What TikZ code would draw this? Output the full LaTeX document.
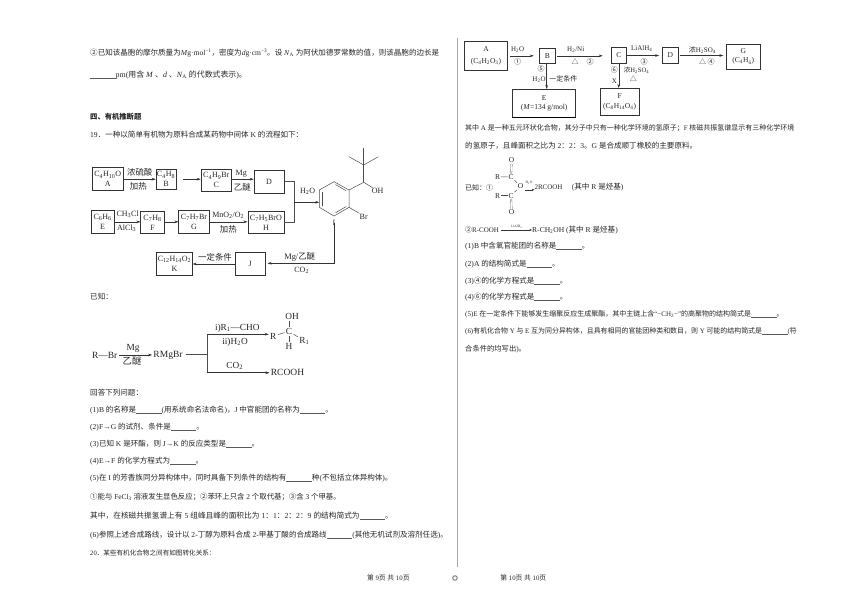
\documentclass[tikz,border=0pt]{standalone}
\usepackage{fontspec}
\setmainfont{Liberation Serif}
\newfontfamily\cjk{Noto Sans CJK SC}
\usetikzlibrary{arrows.meta}

% CJK characters switch to the CJK family on their own
\newXeTeXintercharclass\cjkclass
\newcount\cjkcnt
\newcommand{\cjkrange}[2]{\cjkcnt=#1 \loop\XeTeXcharclass\cjkcnt=\cjkclass \ifnum\cjkcnt<#2 \advance\cjkcnt by 1 \repeat}
\cjkrange{"4E00}{"9FFF}
\cjkrange{"3000}{"303F}
\cjkrange{"FF00}{"FFEF}
\cjkrange{"2460}{"2473}
\XeTeXcharclass"25B3=\cjkclass
\XeTeXinterchartokenstate=1
\XeTeXinterchartoks 0 \cjkclass={\begingroup\cjk}
\XeTeXinterchartoks 4095 \cjkclass={\begingroup\cjk}
\XeTeXinterchartoks \cjkclass 0={\endgroup}
\XeTeXinterchartoks \cjkclass 4095={\endgroup}

\newcommand{\dn}[1]{\textsubscript{#1}}
\newcommand{\blk}{{\color{black!65}\rule[-0.6pt]{25.5pt}{0.3pt}}}

\tikzset{
  fs/.style={font=\fontsize{#1}{9}\selectfont},
  txt/.style={anchor=base west,inner sep=0pt,text=black!85,fs=7.55},
  box/.style={draw=black!80,line width=.5pt,inner sep=0pt,align=center,text=black!85,font=\fontsize{8}{10}\selectfont},
  boxr/.style={box,font=\fontsize{7.5}{9.5}\selectfont},
  lab/.style={inner sep=0pt,text=black!85,fs=8},
  labz/.style={lab,fs=8.4},
  labr/.style={lab,fs=7},
  chem/.style={inner sep=1.2pt,text=black!85,fs=9.3},
  flow/.style={draw=black!80,line width=.5pt,-{Stealth[length=4pt,width=2.6pt]}},
  bond/.style={draw=black!70,line width=.5pt},
}

\begin{document}
\begin{tikzpicture}[x=1pt,y=-1pt]
\useasboundingbox (0,0) rectangle (860,608);
\fill[white] (0,0) rectangle (860,608);

% left column
\node[txt] (l1) at (90,55.2) {②已知该晶胞的摩尔质量为\textit{M}g·mol\textsuperscript{−1}，密度为\textit{d}g·cm\textsuperscript{−3}。设 \textit{N}\dn{A} 为阿伏加德罗常数的值，则该晶胞的边长是};
\node[txt,fs=7.9] (l2) at (90,77.5) {\blk{}pm(用含 \textit{M} 、\textit{d} 、\textit{N}\dn{A} 的代数式表示)。};
\node[txt,font=\fontsize{7.3}{9}\selectfont\bfseries] (l3) at (90,119.5) {四、有机推断题};
\node[txt] (l4) at (90,137.5) {19．一种以简单有机物为原料合成某药物中间体 K 的流程如下：};

\node[box,minimum width=31pt,minimum height=23pt] (A) at (107.8,179.2) {C\dn{4}H\dn{10}O\\A};
\node[box,minimum width=20pt,minimum height=20.3pt] (B) at (166,179.2) {C\dn{4}H\dn{8}\\B};
\node[box,minimum width=30.7pt,minimum height=22.7pt] (C) at (216.3,180.3) {C\dn{4}H\dn{9}Br\\C};
\node[box,minimum width=30.3pt,minimum height=22.7pt] (D) at (269.1,181.4) {D};
\node[box,minimum width=23.3pt,minimum height=23pt] (E) at (102.6,221.8) {C\dn{6}H\dn{6}\\E};
\node[box,minimum width=23.6pt,minimum height=21.6pt] (F) at (152.5,222.5) {C\dn{7}H\dn{8}\\F};
\node[box,minimum width=30.6pt,minimum height=22.6pt] (G) at (194,222) {C\dn{7}H\dn{7}Br\\G};
\node[box,minimum width=36.3pt,minimum height=21.6pt] (H) at (265.9,222.5) {C\dn{7}H\dn{5}BrO\\H};
\node[box,minimum width=35.6pt,minimum height=22.6pt] (K) at (174.5,264) {C\dn{12}H\dn{14}O\dn{2}\\K};
\node[box,minimum width=30pt,minimum height=22.6pt] (J) at (250.3,264) {J};

\draw[flow] (A.east) -- (A.east -| B.west);
\draw[flow,shorten <=7pt] (B.east) -- (B.east -| C.west);
\draw[flow] (C.east |- B.east) -- (B.east -| D.west);
\draw[flow] (E.east) -- (E.east -| F.west);
\draw[flow] (F.east |- E.east) -- (E.east -| G.west);
\draw[flow] (G.east |- E.east) -- (E.east -| H.west);
\draw[flow] (J.west) -- (K.east);

\node[labz] (t1) at (139.7,172.7) {浓硫酸};
\node[labz] (t2) at (138.3,186.3) {加热};
\node[lab] (t3) at (241.3,173.3) {Mg};
\node[labz] (t4) at (242.3,187.7) {乙醚};
\node[lab] (t5) at (127.7,214) {CH\dn{3}Cl};
\node[lab] (t6) at (126.7,228.3) {AlCl\dn{3}};
\node[lab] (t7) at (228.3,215.7) {MnO\dn{2}/O\dn{2}};
\node[labz] (t8) at (228.3,229.3) {加热};
\node[labz] (t9) at (215,257.3) {一定条件};

% ring and the lines round it
\foreach \n/\x/\y in {1/334/181.7,2/349/190,3/349/207.3,4/334/216,5/319.3/207.3,6/319.3/190,
  ch/363.7/182.3,oh/372.7/187.7,cq/363.7/165,m1/363.7/148.3,m2/349/156.7,m3/378.3/156.7,br/359.3/213.3}
  \coordinate (p\n) at (\x,\y);
\draw[bond] (p1)--(p2)--(p3)--(p4)--(p5)--(p6)--cycle;
\draw[bond] (335.5,184.6)--(346.2,190.8);
\draw[bond] (346.2,206.5)--(335.5,212.8);
\draw[bond] (322,192)--(322,205.5);
\draw[bond] (p2)--(pch)--(poh);
\draw[bond] (pch)--(pcq)--(pm1);
\draw[bond] (pm2)--(pcq)--(pm3);
\draw[bond] (p3)--(pbr);
\node[lab] (oh) at (377.7,191) {OH};
\node[lab] (br) at (363.7,216.7) {Br};
\node[lab] (io) at (334,223.3) {I};

\coordinate (dh) at (294.3,202.3);
\coordinate (ij) at (334,263.3);
\draw[bond] (D.east) -| (dh);
\draw[bond] (H.east) -| (dh);
\draw[flow] (dh) -- (p6 |- dh);
\draw[flow] ([yshift=3pt]io.south) -- (ij) -- ([xshift=2pt]J.east |- ij);
\node[lab] (t10) at (307.7,191) {H\dn{2}O};
\node[labz] (t11) at (299.7,256.7) {Mg/乙醚};
\node[lab] (t12) at (301.7,270.7) {CO\dn{2}};

\node[txt] (l5) at (90,299.8) {已知：};

\node[chem,fs=9.5] (rbr) at (104.7,355) {R---Br};
\node[chem,fs=9.5] (rmg) at (168,355) {RMgBr};
\coordinate (bj) at (207.3,354);
\coordinate (bjt) at (207.3,334.3);
\coordinate (bjb) at (207.3,372.7);
\node[chem,fs=9.5,anchor=west] (rcooh) at (269.5,372.7) {RCOOH};
\node[chem] (sr) at (273.3,336) {R};
\node[chem] (sc) at (289,331.3) {C};
\node[chem] (so) at (292,316) {OH};
\node[chem] (sh) at (289,346.7) {H};
\node[chem] (sq) at (304.3,341) {R\dn{1}};
\draw[bond] (sr)--(sc);
\draw[bond] (sc)--(sc |- so.south);
\draw[bond] (sc)--(sh);
\draw[bond] (sc)--(sq);
\draw[flow] (rbr.east) -- (rbr.east -| rmg.west);
\draw[bond] ([xshift=2pt]rmg.east |- bj) -- (bj);
\draw[bond] (bjt)--(bjb);
\draw[flow] (bjt) -- (bjt -| sr.west);
\draw[flow] (bjb) -- (bjb -| rcooh.west);
\node[chem] (s1) at (133,348.5) {Mg};
\node[chem] (s2) at (132,361) {乙醚};
\node[chem] (s3) at (237.3,328.3) {i)R\dn{1}---CHO};
\node[chem] (s4) at (235,342.3) {ii)H\dn{2}O};
\node[chem] (s5) at (234.7,366) {CO\dn{2}};

\node[txt] (l6) at (90,395.8) {回答下列问题：};
\node[txt] (l7) at (90,412.5) {(1)B 的名称是\blk{}(用系统命名法命名)，J 中官能团的名称为\blk{}。};
\node[txt] (l8) at (90,429.8) {(2)F→G 的试剂、条件是\blk{}。};
\node[txt] (l9) at (90,446.8) {(3)已知 K 是环酯，则 J→K 的反应类型是\blk{}。};
\node[txt] (l10) at (90,463.5) {(4)E→F 的化学方程式为\blk{}。};
\node[txt] (l11) at (90,480.2) {(5)在 I 的芳香族同分异构体中，同时具备下列条件的结构有\blk{}种(不包括立体异构体)。};
\node[txt,fs=7.4] (l12) at (90,499.8) {①能与 FeCl\dn{3} 溶液发生显色反应；②苯环上只含 2 个取代基；③含 3 个甲基。};
\node[txt,fs=7.7] (l13) at (90,518.5) {其中，在核磁共振氢谱上有 5 组峰且峰的面积比为 1：1：2：2：9 的结构简式为\blk{}。};
\node[txt] (l14) at (90,537.5) {(6)参照上述合成路线，设计以 2-丁醇为原料合成 2-甲基丁酸的合成路线\blk{}(其他无机试剂及溶剂任选)。};
\node[txt,fs=6.6] (l15) at (90,555.2) {20．某些有机化合物之间有如图转化关系：};

% middle line and footer
\draw[gray!70,line width=.7pt] (457,38) coordinate (mt) -- (457,567) coordinate (mb);
\node[txt,anchor=base,fs=6.8] (pg9) at (388.3,580.2) {第 9页 共 10页};
\node[txt,anchor=base,fs=6.8] (pg10) at (523.3,580.2) {第 10页 共 10页};
\node[circle,draw=gray,line width=1pt,inner sep=0pt,minimum size=4.5pt] (hole) at (455,578) {};

% right column
\node[boxr,minimum width=43.4pt,minimum height=28.3pt] (rA) at (486,55.8) {A\\[3pt](C\dn{4}H\dn{2}O\dn{3})};
\node[boxr,minimum width=16.7pt,minimum height=15pt] (rB) at (547.3,55.8) {B};
\node[boxr,minimum width=15.7pt,minimum height=15.6pt] (rC) at (618.8,55.5) {C};
\node[boxr,minimum width=16pt,minimum height=15.6pt] (rD) at (670.3,55.5) {D};
\node[boxr,minimum width=33.3pt,minimum height=25pt] (rG) at (743.3,56.5) {G\\(C\dn{4}H\dn{6})};
\node[boxr,minimum width=63pt,minimum height=28pt] (rE) at (544.2,103.3) {E\\(\textit{M}=134 g/mol)};
\node[boxr,minimum width=39.3pt,minimum height=26.7pt] (rF) at (619.6,101.6) {F\\(C\dn{8}H\dn{14}O\dn{4})};
\draw[black,line width=1pt] (rE.south west) -- (rE.south east);
\coordinate (bE) at (546.7,0);

\draw[flow,shorten <=2pt,shorten >=5pt] (rA.east) -- (rA.east -| rB.west);
\draw[flow,shorten <=1pt,shorten >=8pt] (rB.east) -- (rB.east -| rC.west);
\draw[flow,shorten >=3pt] (rC.east) -- (rC.east -| rD.west);
\draw[flow,shorten <=1pt,shorten >=3pt] (rD.east) -- (rD.east -| rG.west);
\draw[flow] (rB.south -| bE) -- (rE.north -| bE);
\draw[flow] (rC.south) -- (rC.south |- rF.north);

\node[labr] (r1) at (517.7,50) {H\dn{2}O};
\node[labr] (r2) at (517.7,61.7) {①};
\node[labr] (r3) at (575.7,50) {H\dn{2}/Ni};
\node[labr] (r4) at (575,61.7) {△};
\node[labr] (r5) at (590,61.7) {②};
\node[labr] (r6) at (641.7,49) {LiAlH\dn{4}};
\node[labr] (r7) at (644,61.7) {③};
\node[labr] (r8) at (702.3,50) {浓H\dn{2}SO\dn{4}};
\node[labr] (r9) at (702.7,61.7) {△};
\node[labr] (r10) at (711,61.7) {④};
\node[labr] (r11) at (541,69.3) {⑤};
\node[labr] (r12) at (539,79.3) {H\dn{2}O};
\node[labr] (r13) at (563.3,79.3) {一定条件};
\node[labr] (r14) at (614.3,70) {⑥};
\node[labr,fs=6.6] (r15) at (636.5,70) {浓H\dn{2}SO\dn{4}};
\node[labr] (r16) at (633.3,78.3) {△};
\node[labr] (r17) at (614.3,81) {X};

\node[txt,fs=7] (n1) at (465,130.5) {其中 A 是一种五元环状化合物，其分子中只有一种化学环境的氢原子；F 核磁共振氢谱显示有三种化学环境};
\node[txt] (n2) at (465,148.8) {的氢原子，且峰面积之比为 2：2：3。G 是合成顺丁橡胶的主要原料。};
\node[txt,fs=7] (n3) at (465,190.5) {已知：①};

\node[chem,fs=7.5,inner sep=.8pt] (o1) at (511.7,160.3) {O};
\node[chem,fs=7.5,inner sep=.8pt] (c1) at (511,177) {C};
\node[chem,fs=7.5,inner sep=.8pt] (r1l) at (497.7,176.8) {R};
\node[chem,fs=7.5,inner sep=.8pt] (om) at (520.7,186.3) {O};
\node[chem,fs=7.5,inner sep=.8pt] (c2) at (511,195.7) {C};
\node[chem,fs=7.5,inner sep=.8pt] (r2l) at (497.7,195.7) {R};
\node[chem,fs=7.5,inner sep=.8pt] (o2) at (511.7,212.3) {O};
\draw[bond,double distance=1pt,line width=.3pt] (o1)--(c1);
\draw[bond,double distance=1pt,line width=.3pt] (o2)--(c2);
\draw[bond] (r1l)--(c1);
\draw[bond] (r2l)--(c2);
\draw[bond] (c1)--(om);
\draw[bond] (c2)--(om);
\node[lab,fs=3.6] (aw) at (529,183) {H\dn{2}O};
\coordinate (aw1) at (525,189.7);
\node[txt,fs=7] (rc) at (534.3,189.8) {2RCOOH};
\draw[flow,line width=.4pt,-{Stealth[length=2.5pt,width=2pt]}] (aw1) -- (aw1 -| rc.west);
\node[txt] (n4) at (571.7,189.8) {(其中 R 是烃基)};

\node[txt,fs=7] (n5) at (465,232.2) {②R-COOH};
\node[txt] (n6) at (532,232.2) {R-CH\dn{2}OH (其中 R 是烃基)};
\node[lab,fs=3.4] (la) at (516.7,227) {LiAlH\dn{4}};
\draw[flow,line width=.4pt,-{Stealth[length=2.5pt,width=2pt]},shorten <=1.5pt] ([yshift=2.2pt]n5.base east) -- ([yshift=2.2pt]n6.base west);

\node[txt] (q1) at (465,248.5) {(1)B 中含氧官能团的名称是\blk{}。};
\node[txt] (q2) at (465,266.8) {(2)A 的结构简式是\blk{}。};
\node[txt] (q3) at (465,283.5) {(3)④的化学方程式是\blk{}。};
\node[txt] (q4) at (465,299.8) {(4)⑥的化学方程式是\blk{}。};
\node[txt,fs=7] (q5) at (465,316.5) {(5)E 在一定条件下能够发生缩聚反应生成聚酯，其中主链上含“−CH\dn{2}−”的高聚物的结构简式是\blk{}。};
\node[txt,fs=6.95] (q6) at (465,333.5) {(6)有机化合物 Y 与 E 互为同分异构体，且具有相同的官能团种类和数目，则 Y 可能的结构简式是\blk{}(符};
\node[txt,fs=7.3] (q7) at (465,351.5) {合条件的均写出)。};
\end{tikzpicture}
\end{document}
